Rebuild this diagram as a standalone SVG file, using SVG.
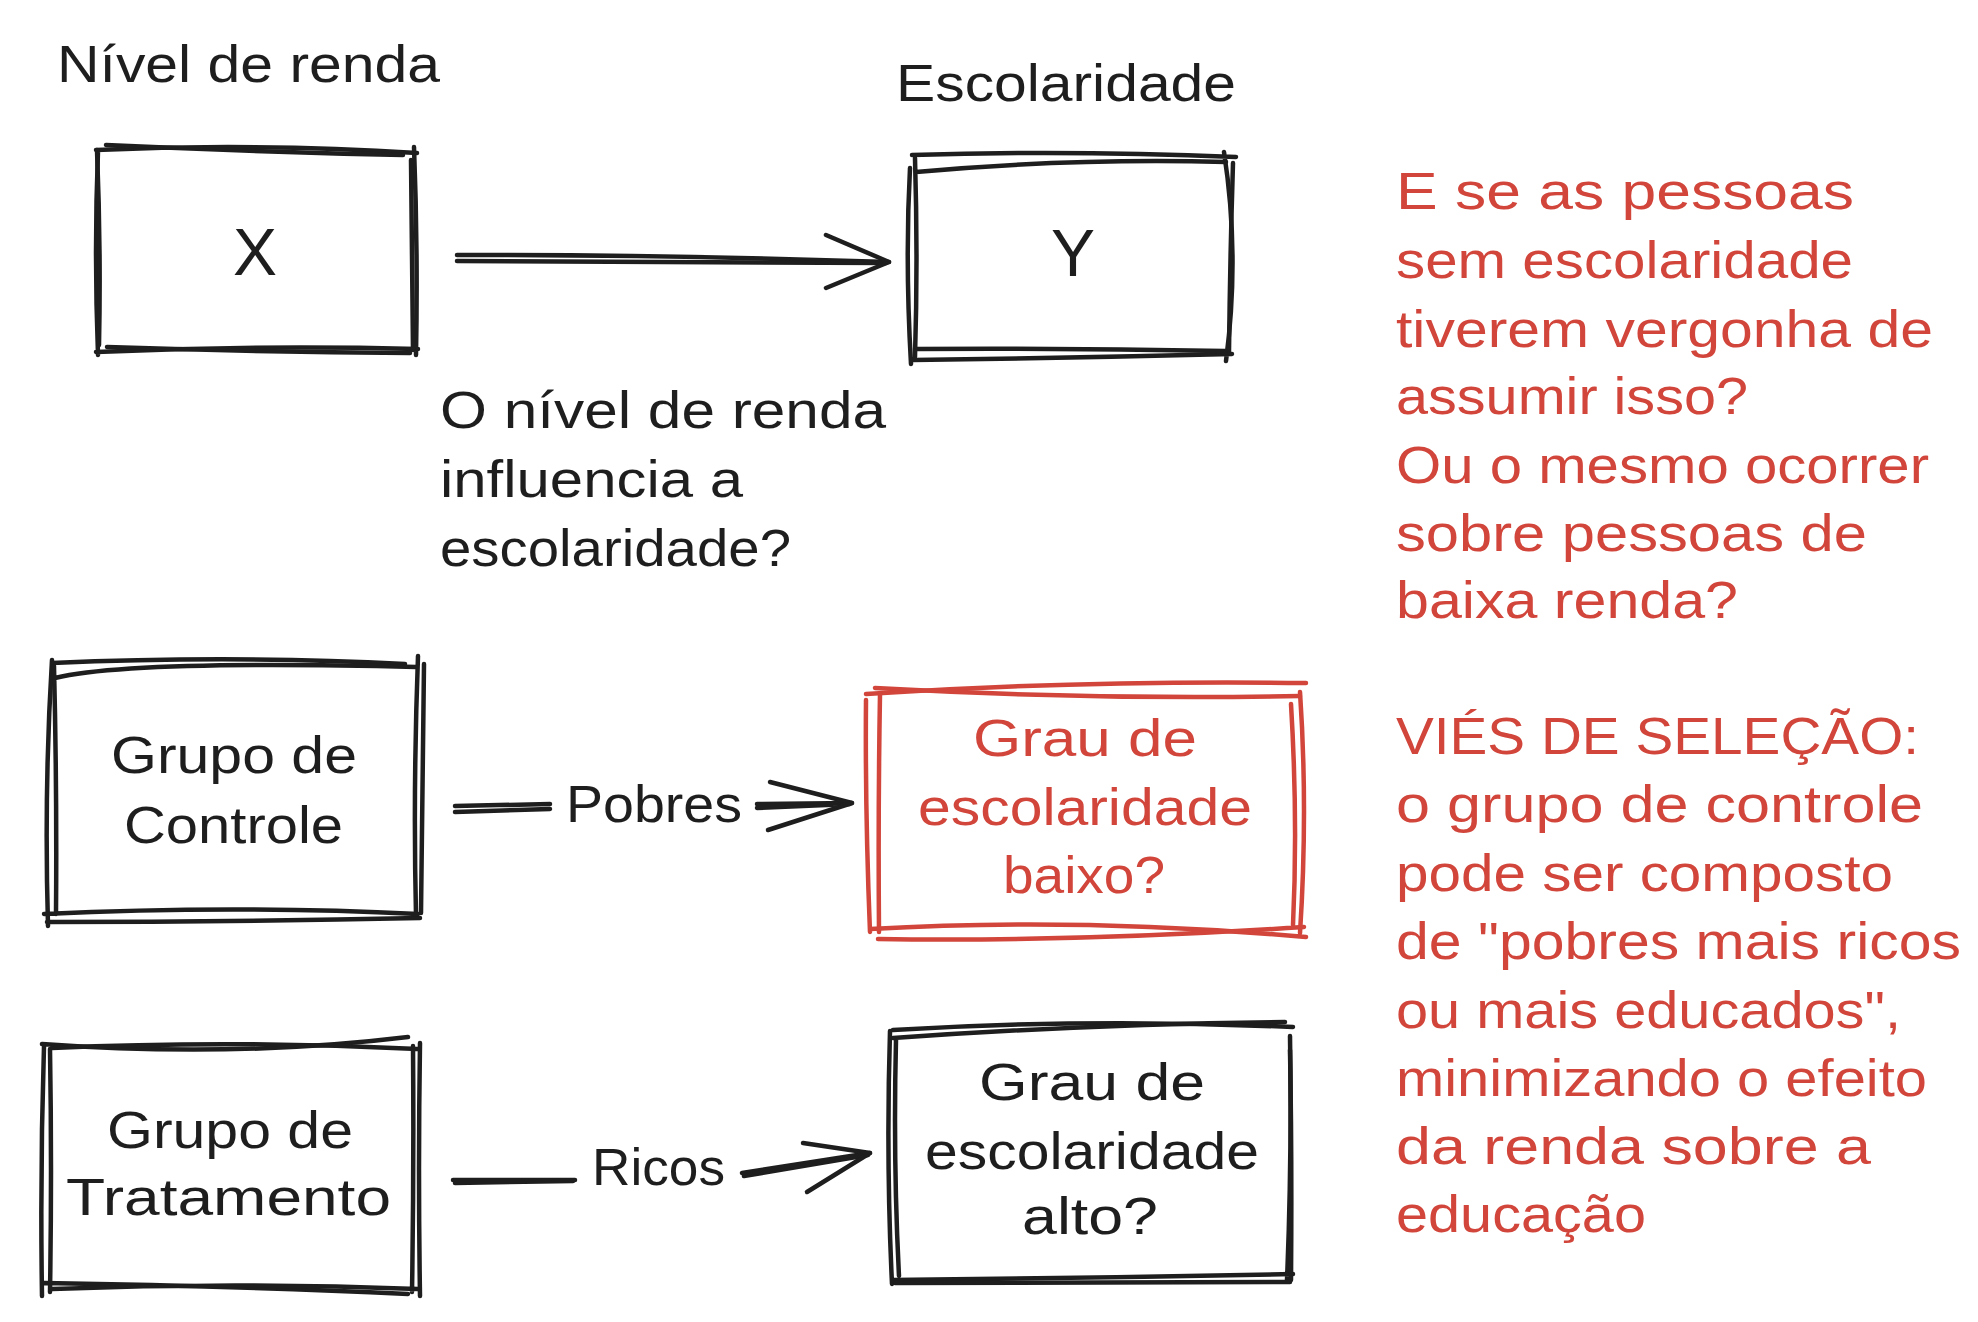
<svg xmlns="http://www.w3.org/2000/svg" width="1978" height="1322" viewBox="0 0 1978 1322">
<style>
.t{font-family:"Liberation Sans",Arial,sans-serif;font-size:52px;fill:#1e1e1e}
.big{font-size:66px}
.r{fill:#d1453b}
.s{fill:none;stroke:#1e1e1e;stroke-width:4.5;stroke-linecap:round;stroke-linejoin:round}
.sr{stroke:#d1453b}
</style>
<rect width="1978" height="1322" fill="#ffffff"/>
<g id="label-nivel"><text class="t" x="57" y="82" textLength="383" lengthAdjust="spacingAndGlyphs">Nível de renda</text></g>
<g id="label-escolaridade"><text class="t" x="896" y="101" textLength="340" lengthAdjust="spacingAndGlyphs">Escolaridade</text></g>
<g id="node-x">
<path class="s" d="M96 150 Q256 143 417 153 M414 147 Q418 250 416 355 M418 349 Q256 345 96 352 M98 355 Q94 250 98 151"/>
<path class="s" d="M106 145 Q260 152 403 155 M411 160 Q412 260 413 350 M410 353 Q260 352 107 347 M99 345 Q101 250 97 150"/>
<text class="t big" x="255" y="275" text-anchor="middle">X</text>
</g>
<g id="node-y">
<path class="s" d="M912 155 Q1070 150 1236 157 M1224 152 Q1240 255 1226 361 M1232 354 Q1070 358 913 360 M911 364 Q905 260 910 168"/>
<path class="s" d="M916 172 Q1070 158 1226 162 M1233 163 Q1230 260 1229 352 M1225 351 Q1070 348 915 349 M915 357 Q918 260 915 158"/>
<text class="t big" x="1073" y="276" text-anchor="middle">Y</text>
</g>
<g id="question">
<text class="t" x="440" y="428" textLength="446" lengthAdjust="spacingAndGlyphs">O nível de renda</text>
<text class="t" x="440" y="497" textLength="303" lengthAdjust="spacingAndGlyphs">influencia a</text>
<text class="t" x="440" y="566" textLength="351" lengthAdjust="spacingAndGlyphs">escolaridade?</text>
</g>
<g id="note-1">
<text class="t r" x="1396" y="209" textLength="458" lengthAdjust="spacingAndGlyphs">E se as pessoas</text>
<text class="t r" x="1396" y="278" textLength="457" lengthAdjust="spacingAndGlyphs">sem escolaridade</text>
<text class="t r" x="1396" y="347" textLength="537" lengthAdjust="spacingAndGlyphs">tiverem vergonha de</text>
<text class="t r" x="1396" y="414" textLength="352" lengthAdjust="spacingAndGlyphs">assumir isso?</text>
<text class="t r" x="1396" y="483" textLength="533" lengthAdjust="spacingAndGlyphs">Ou o mesmo ocorrer</text>
<text class="t r" x="1396" y="551" textLength="471" lengthAdjust="spacingAndGlyphs">sobre pessoas de</text>
<text class="t r" x="1396" y="618" textLength="342" lengthAdjust="spacingAndGlyphs">baixa renda?</text>
</g>
<g id="note-2">
<text class="t r" x="1396" y="754" textLength="523" lengthAdjust="spacingAndGlyphs">VIÉS DE SELEÇÃO:</text>
<text class="t r" x="1396" y="822" textLength="527" lengthAdjust="spacingAndGlyphs">o grupo de controle</text>
<text class="t r" x="1396" y="891" textLength="497" lengthAdjust="spacingAndGlyphs">pode ser composto</text>
<text class="t r" x="1396" y="959" textLength="565" lengthAdjust="spacingAndGlyphs">de "pobres mais ricos</text>
<text class="t r" x="1396" y="1028" textLength="505" lengthAdjust="spacingAndGlyphs">ou mais educados",</text>
<text class="t r" x="1396" y="1096" textLength="531" lengthAdjust="spacingAndGlyphs">minimizando o efeito</text>
<text class="t r" x="1396" y="1164" textLength="475" lengthAdjust="spacingAndGlyphs">da renda sobre a</text>
<text class="t r" x="1396" y="1232" textLength="250" lengthAdjust="spacingAndGlyphs">educação</text>
</g>
<g id="node-controle">
<path class="s" d="M52 663 Q235 655 405 664 M418 656 Q413 790 416 915 M420 918 Q235 922 47 922 M48 926 Q44 790 52 660"/>
<path class="s" d="M55 678 Q130 660 416 667 M424 664 Q422 790 421 913 M418 914 Q235 905 44 914 M56 914 Q57 790 54 666"/>
<text class="t" x="111" y="773" textLength="246" lengthAdjust="spacingAndGlyphs">Grupo de</text>
<text class="t" x="124" y="843" textLength="219" lengthAdjust="spacingAndGlyphs">Controle</text>
</g>
<g id="node-baixo">
<path class="s sr" d="M866 694 Q1080 680 1306 683 M1300 692 Q1308 810 1300 933 M1306 937 Q1080 917 870 929 M870 932 Q865 810 866 700"/>
<path class="s sr" d="M875 688 Q1090 700 1300 696 M1291 704 Q1298 820 1293 925 M1304 927 Q1080 942 878 939 M879 932 Q878 810 880 694"/>
<text class="t r" x="973" y="756" textLength="224" lengthAdjust="spacingAndGlyphs">Grau de</text>
<text class="t r" x="918" y="825" textLength="334" lengthAdjust="spacingAndGlyphs">escolaridade</text>
<text class="t r" x="1003" y="893" textLength="162" lengthAdjust="spacingAndGlyphs">baixo?</text>
</g>
<g id="node-tratamento">
<path class="s" d="M42 1044 Q235 1058 408 1037 M420 1043 Q418 1170 420 1296 M408 1294 Q235 1286 44 1283 M42 1296 Q40 1170 44 1046"/>
<path class="s" d="M52 1048 Q235 1040 418 1049 M413 1046 Q414 1170 412 1292 M52 1289 Q235 1282 418 1289 M50 1292 Q52 1170 50 1049"/>
<text class="t" x="107" y="1148" textLength="246" lengthAdjust="spacingAndGlyphs">Grupo de</text>
<text class="t" x="66" y="1215" textLength="325" lengthAdjust="spacingAndGlyphs">Tratamento</text>
</g>
<g id="node-alto">
<path class="s" d="M893 1030 Q1090 1018 1293 1027 M1290 1036 Q1292 1160 1287 1280 M1293 1274 Q1090 1278 892 1280 M892 1284 Q886 1160 890 1031"/>
<path class="s" d="M893 1038 Q1090 1024 1285 1022 M1291 1280 Q1292 1160 1290 1050 M1290 1282 Q1090 1283 895 1283 M899 1276 Q893 1160 896 1040"/>
<text class="t" x="979" y="1100" textLength="226" lengthAdjust="spacingAndGlyphs">Grau de</text>
<text class="t" x="925" y="1169" textLength="334" lengthAdjust="spacingAndGlyphs">escolaridade</text>
<text class="t" x="1022" y="1234" textLength="136" lengthAdjust="spacingAndGlyphs">alto?</text>
</g>
<g id="connectors">
<path class="s" d="M457 255 Q680 255 889 262"/>
<path class="s" d="M457 261 Q680 262 886 263"/>
<path class="s" d="M826 235 L889 262 L826 288"/>
<path class="s" d="M455 806 L550 804 M455 812 L550 809"/>
<path class="s" d="M757 804 L852 803 M757 808 L850 804"/>
<path class="s" d="M770 782 L852 803 L768 830"/>
<text class="t" x="566" y="822" textLength="176" lengthAdjust="spacingAndGlyphs">Pobres</text>
<path class="s" d="M453 1180 L575 1180 M455 1183 L573 1181"/>
<path class="s" d="M742 1173 L870 1153 M744 1176 L868 1155"/>
<path class="s" d="M803 1143 L870 1153 L807 1192"/>
<text class="t" x="592" y="1185" textLength="133" lengthAdjust="spacingAndGlyphs">Ricos</text>
</g>
</svg>
